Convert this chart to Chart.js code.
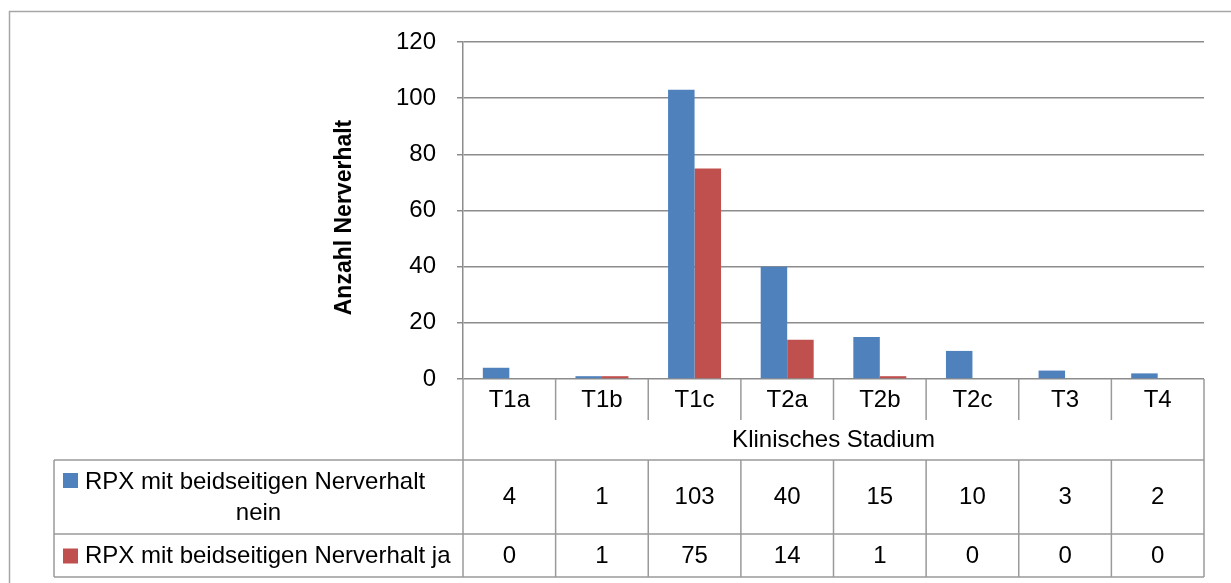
<!DOCTYPE html>
<html lang="de">
<head>
<meta charset="utf-8">
<title>Nerverhalt nach klinischem Stadium</title>
<script src="https://cdn.jsdelivr.net/npm/chart.js@4/dist/chart.umd.min.js"></script>
<style>
  html, body { margin: 0; padding: 0; background: #fff; }
  #wrap { width: 1231px; height: 583px; }
</style>
</head>
<body>
<div id="wrap"><canvas id="chart" width="1231" height="583"></canvas></div>
<script>
// ─── Data ────────────────────────────────────────────────────────
const categories = ["T1a", "T1b", "T1c", "T2a", "T2b", "T2c", "T3", "T4"];
const nervNein   = [4, 1, 103, 40, 15, 10, 3, 2];
const nervJa     = [0, 1, 75, 14, 1, 0, 0, 0];
const seriesNein = ["RPX mit beidseitigen Nerverhalt", "nein"];
const seriesJa   = ["RPX mit beidseitigen Nerverhalt ja"];
const yTicks     = [0, 20, 40, 60, 80, 100, 120];
const xTitle     = "Klinisches Stadium";
const yTitle     = "Anzahl Nerverhalt";

// ─── Style ───────────────────────────────────────────────────────
const FONT   = "'Liberation Sans', Arial, sans-serif";
const BLUE   = "#4F81BD";
const RED    = "#C0504D";
const GRID   = "#8c8c8c";
const TABLE  = "#9a9a9a";
const FRAME  = "#a6a6a6";

// Data table under the plot (Excel style), drawn against the x scale
const dataTable = {
  id: "dataTable",
  afterDraw(chart) {
    const { ctx, chartArea: area, scales: { x } } = chart;
    const ds = chart.data.datasets;
    const n = categories.length;
    const colW = (area.right - area.left) / n;
    const edges = [];
    for (let i = 0; i <= n; i++) edges.push(area.left + i * colW);

    const top = area.bottom;
    const headBottom = top + 41;
    const titleBottom = top + 81;
    const row1Bottom = titleBottom + 74;
    const row2Bottom = row1Bottom + 43;
    const legendLeft = 54;

    ctx.save();

    // outer chart frame (left and top edges are visible)
    ctx.strokeStyle = FRAME;
    ctx.lineWidth = 1.5;
    ctx.beginPath();
    ctx.moveTo(9.5, chart.height + 2);
    ctx.lineTo(9.5, 11.5);
    ctx.lineTo(chart.width + 2, 11.5);
    ctx.stroke();

    // y axis title, a bit below the plot's middle like Excel places it
    ctx.save();
    ctx.translate(345, (area.top + area.bottom) / 2 + 7);
    ctx.rotate(-Math.PI / 2);
    ctx.fillStyle = "#000";
    ctx.font = "bold 23px " + FONT;
    ctx.textAlign = "center";
    ctx.textBaseline = "middle";
    ctx.fillText(yTitle, 0, 0);
    ctx.restore();

    // table grid
    ctx.strokeStyle = TABLE;
    ctx.lineWidth = 1.5;
    ctx.beginPath();
    edges.forEach((ex) => { ctx.moveTo(ex, top); ctx.lineTo(ex, headBottom); });
    ctx.moveTo(area.left, top); ctx.lineTo(area.left, row2Bottom);
    ctx.moveTo(area.right, top); ctx.lineTo(area.right, row2Bottom);
    [titleBottom, row1Bottom, row2Bottom].forEach((yy) => {
      ctx.moveTo(legendLeft, yy); ctx.lineTo(area.right, yy);
    });
    ctx.moveTo(legendLeft, titleBottom); ctx.lineTo(legendLeft, row2Bottom);
    edges.forEach((ex) => { ctx.moveTo(ex, titleBottom); ctx.lineTo(ex, row2Bottom); });
    ctx.stroke();

    // category labels + axis title
    ctx.fillStyle = "#000";
    ctx.font = "24px " + FONT;
    ctx.textAlign = "center";
    ctx.textBaseline = "middle";
    categories.forEach((c, i) => ctx.fillText(c, x.getPixelForValue(i), top + 21));
    ctx.fillText(xTitle, (area.left + area.right) / 2, top + 61);

    // values
    const rowMid1 = (titleBottom + row1Bottom) / 2;
    const rowMid2 = (row1Bottom + row2Bottom) / 2 + 1;
    ds[0].data.forEach((v, i) => ctx.fillText(String(v), x.getPixelForValue(i), rowMid1));
    ds[1].data.forEach((v, i) => ctx.fillText(String(v), x.getPixelForValue(i), rowMid2));

    // series names with legend keys
    const labelMid = (legendLeft + area.left) / 2;
    ctx.fillStyle = ds[0].backgroundColor;
    ctx.fillRect(63, rowMid1 - 24, 15, 15);
    ctx.fillStyle = ds[1].backgroundColor;
    ctx.fillRect(63, rowMid2 - 8, 15, 15);

    ctx.fillStyle = "#000";
    ctx.textAlign = "left";
    ctx.fillText(seriesNein[0], 85, rowMid1 - 15);
    ctx.fillText(seriesJa[0], 85, rowMid2);
    ctx.textAlign = "center";
    ctx.fillText(seriesNein[1], labelMid, rowMid1 + 16);

    ctx.restore();
  }
};

new Chart(document.getElementById("chart"), {
  type: "bar",
  data: {
    labels: categories,
    datasets: [
      { label: seriesNein.join(" "), data: nervNein, backgroundColor: BLUE },
      { label: seriesJa[0], data: nervJa, backgroundColor: RED },
    ],
  },
  options: {
    responsive: false,
    animation: false,
    devicePixelRatio: 1,
    categoryPercentage: 0.572,
    barPercentage: 1,
    layout: { padding: { left: 0, top: 42, right: 27, bottom: 204 } },
    plugins: { legend: { display: false }, tooltip: { enabled: false } },
    scales: {
      x: { display: false },
      y: {
        min: 0,
        max: 120,
        afterBuildTicks: (s) => { s.ticks = yTicks.map((v) => ({ value: v })); },
        afterFit: (s) => { s.width = 463; },
        ticks: { color: "#000", padding: 21, font: { family: FONT, size: 24 } },
        grid: { color: GRID, lineWidth: 1.5, tickLength: 6, drawTicks: true },
        border: { color: GRID, width: 1.5 },
      },
    },
  },
  plugins: [dataTable],
});
</script>
</body>
</html>
